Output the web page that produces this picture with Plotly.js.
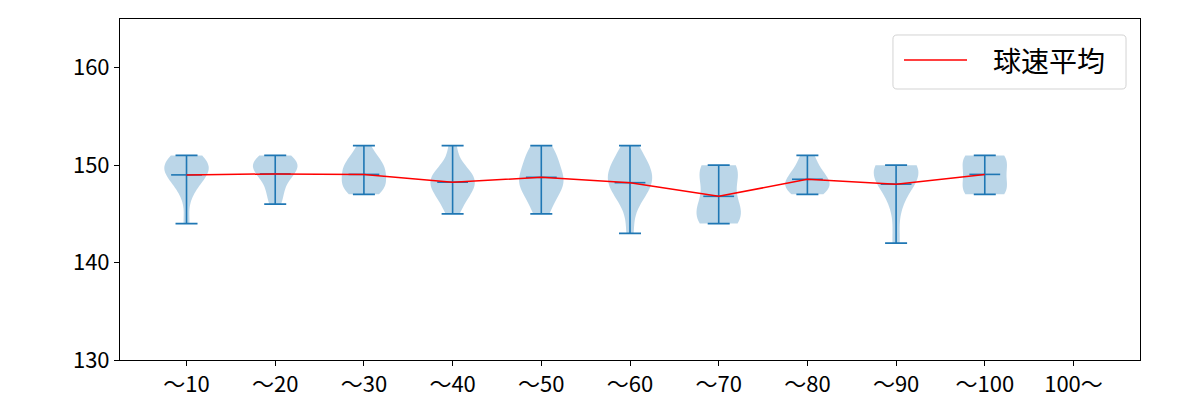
<!DOCTYPE html>
<html>
<head>
<meta charset="utf-8">
<script src="https://cdn.plot.ly/plotly-3.0.1.min.js"></script>
<style>html,body{margin:0;padding:0;background:#fff;}#chart{width:1200px;height:400px;}</style>
</head>
<body>
<div id="chart"></div>
<script>
// Categories (x tick labels)
const categories = ["～10","～20","～30","～40","～50","～60","～70","～80","～90","～100","100～"];

// Pitch speed samples (km/h) per category
const speeds10  = [151,151,150,150,150,150,149,149,149,148,147,144];
const speeds20  = [151,151,150,150,150,150,149,149,148,147,146];
const speeds30  = [152,151,150,150,150,149,149,148,148,148,147,147];
const speeds40  = [152,150,149,149,149,148,148,148,147,147,146,145];
const speeds50  = [152,151,151,150,149,149,148,148,148,147,146,145];
const speeds60  = [152,151,150,150,149,149,148,148,148,147,146,143];
const speeds70  = [150,150,149,149,147,146,145,145,144,144];
const speeds80  = [151,150,149,149,148,148,148,147,147];
const speeds90  = [150,150,150,149,149,149,148,146,142];
const speeds100 = [151,151,150,149,148,147,147];

// Mean speed per category (red line)
const meanSpeed = [149.0,149.1,149.05,148.25,148.75,148.2,146.8,148.55,148.05,149.05];

const legendLabel = '球速平均';

const groups = [speeds10,speeds20,speeds30,speeds40,speeds50,speeds60,speeds70,speeds80,speeds90,speeds100];

const BLUE = '#1f77b4';
const positions = categories.map((c,i)=>i+1);

function scottBw(a){
  const n=a.length, m=a.reduce((s,v)=>s+v,0)/n;
  const sd=Math.sqrt(a.reduce((s,v)=>s+(v-m)*(v-m),0)/(n-1));
  return sd*Math.pow(n,-0.2);
}

const traces = [];
groups.forEach((g,i)=>{
  traces.push({
    type:'violin',
    x:g.map(()=>positions[i]),
    y:g,
    width:0.5,
    scalemode:'width',
    spanmode:'hard',
    bandwidth:scottBw(g),
    points:false,
    box:{visible:false},
    meanline:{visible:false},
    fillcolor:'rgba(31,119,180,0.3)',
    line:{width:0,color:'rgba(31,119,180,0)'},
    showlegend:false,
    hoverinfo:'skip'
  });
});

const gx = groups.map((g,i)=>positions[i]);
const gmax = groups.map(g=>Math.max(...g));
const gmin = groups.map(g=>Math.min(...g));

// vertical bars with min/max caps and mean ticks
traces.push({
  type:'scatter', mode:'markers',
  x:gx, y:meanSpeed,
  marker:{symbol:'line-ew', size:22, line:{width:1.6,color:BLUE}, color:BLUE},
  error_y:{type:'data', symmetric:false,
    array:gmax.map((v,i)=>v-meanSpeed[i]),
    arrayminus:meanSpeed.map((v,i)=>v-gmin[i]),
    color:BLUE, thickness:1.6, width:11},
  showlegend:false, hoverinfo:'skip'
});

// mean line
traces.push({
  type:'scatter', mode:'lines',
  x:gx, y:meanSpeed,
  line:{color:'red', width:1.5},
  name:legendLabel, showlegend:false
});

// Custom legend (matplotlib style) in paper coordinates
const bx0=0.7578, bx1=0.9863, by0=0.7947, by1=0.9531, rx=0.004, ry=0.012;
const boxPath = `M ${bx0+rx} ${by0} L ${bx1-rx} ${by0} Q ${bx1} ${by0} ${bx1} ${by0+ry} `+
  `L ${bx1} ${by1-ry} Q ${bx1} ${by1} ${bx1-rx} ${by1} L ${bx0+rx} ${by1} Q ${bx0} ${by1} ${bx0} ${by1-ry} `+
  `L ${bx0} ${by0+ry} Q ${bx0} ${by0} ${bx0+rx} ${by0} Z`;

const font = "'Noto Sans CJK JP', 'Noto Sans', sans-serif";
const layout = {
  width:1200, height:400,
  margin:{l:120, r:60, t:19, b:40},
  paper_bgcolor:'#fff', plot_bgcolor:'#fff',
  font:{family:font, color:'#000', size:22},
  showlegend:false,
  shapes:[
    {type:'path', xref:'paper', yref:'paper', path:boxPath,
     fillcolor:'rgba(255,255,255,0.8)', line:{color:'#d3d3d3', width:1}},
    {type:'line', xref:'paper', yref:'paper', x0:0.7686, x1:0.8304, y0:0.8798, y1:0.8798,
     line:{color:'red', width:1.5}}
  ],
  annotations:[
    {xref:'paper', yref:'paper', x:0.8549, y:0.8798, xanchor:'left', yanchor:'middle',
     text:legendLabel, showarrow:false, borderpad:0, font:{size:28, family:font, color:'#000'}}
  ],
  xaxis:{range:[0.25,11.75], tickmode:'array', tickvals:positions, ticktext:categories,
    showgrid:false, zeroline:false, showline:true, linecolor:'#000', linewidth:1, mirror:true,
    ticks:'outside', ticklen:5, tickcolor:'#000', tickfont:{size:22}},
  yaxis:{range:[130,165], tickvals:[130,140,150,160],
    showgrid:false, zeroline:false, showline:true, linecolor:'#000', linewidth:1, mirror:true,
    ticks:'outside', ticklen:5, tickcolor:'#000', tickfont:{size:22}}
};

Plotly.newPlot('chart', traces, layout, {displayModeBar:false, staticPlot:true});
</script>
</body>
</html>
